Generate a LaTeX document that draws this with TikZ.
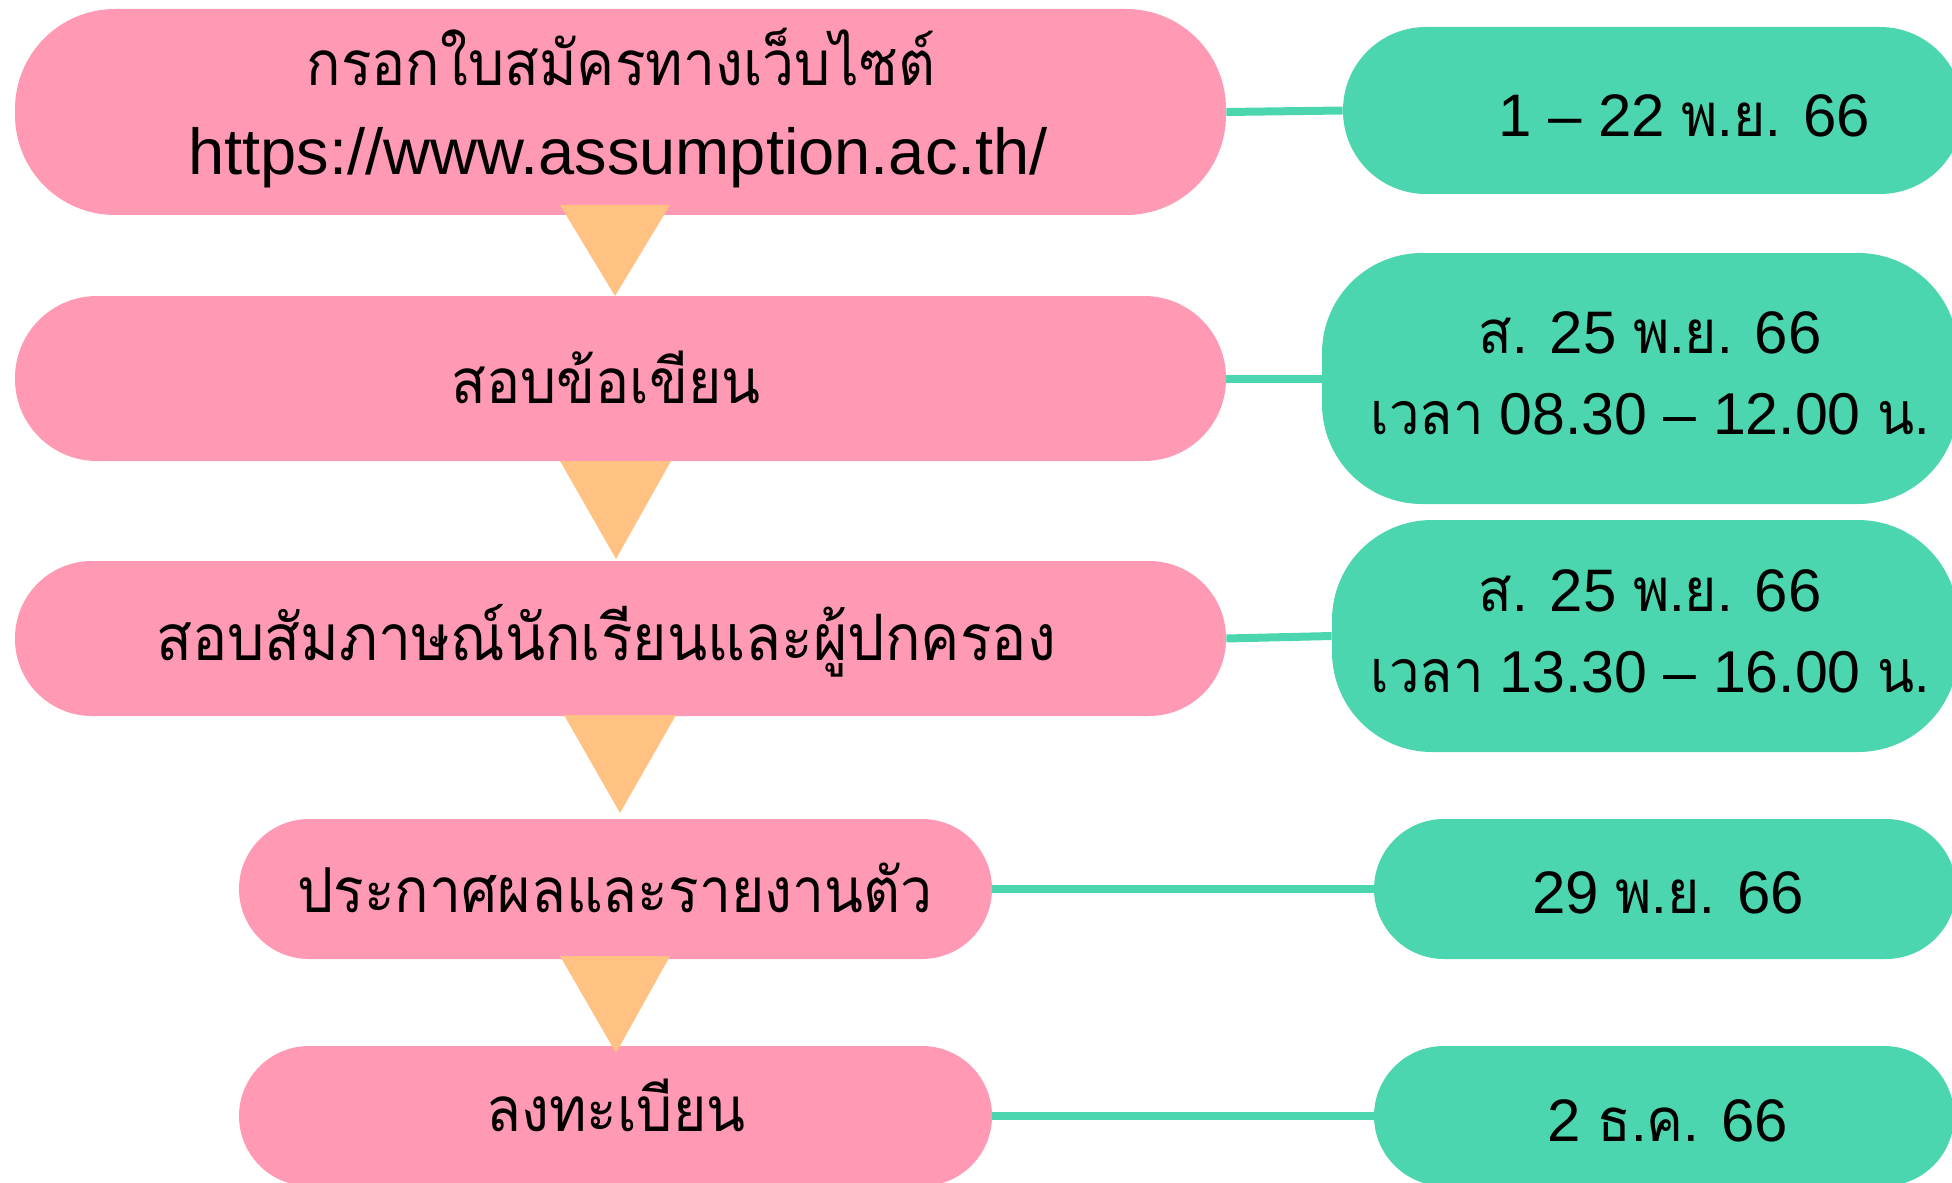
\documentclass[tikz,border=0pt]{standalone}
\usepackage{fontspec}
\setmainfont{Liberation Sans}
\newfontfamily\thaifont[Script=Thai, FakeStretch=0.92]{Loma}
\definecolor{pinkc}{HTML}{FF99B4}
\definecolor{greenc}{HTML}{4CD6AF}
\definecolor{orangec}{HTML}{FFC282}
\tikzset{
  pinkbox/.style={fill=pinkc, draw=none, inner sep=0pt, rectangle},
  greenbox/.style={fill=greenc, draw=none, inner sep=0pt, rectangle},
  txt/.style={inner sep=0pt, anchor=base, font=\fontsize{31}{37}\selectfont, text=black},
  urltxt/.style={txt, font=\fontsize{32.5}{38}\selectfont},
  datetxt/.style={txt, font=\fontsize{30}{36}\selectfont},
  datetxtb/.style={txt, font=\fontsize{29.5}{36}\selectfont},
  link/.style={draw=greenc, line width=4pt},
  tri/.style={fill=orangec, draw=none}
}
\begin{document}
\begin{tikzpicture}[x=0.5pt, y=-0.5pt]
\useasboundingbox (0,0) rectangle (1952,1182);
\clip (0,0) rectangle (1952,1182);
% pink process boxes
\node[pinkbox, minimum width=605.5pt, minimum height=103pt, rounded corners=50pt] (p1) at (620.5,112) {};
\node[pinkbox, minimum width=605.5pt, minimum height=82.5pt, rounded corners=41pt] (p2) at (620.5,378.5) {};
\node[pinkbox, minimum width=605.5pt, minimum height=77.5pt, rounded corners=38.5pt] (p3) at (620.5,638.5) {};
\node[pinkbox, minimum width=376.5pt, minimum height=70pt, rounded corners=35pt] (p4) at (615.5,889) {};
\node[pinkbox, minimum width=376.5pt, minimum height=70pt, rounded corners=35pt] (p5) at (615.5,1116) {};
% green date boxes
\node[greenbox, minimum width=310pt, minimum height=83.5pt, rounded corners=41.5pt] (g1) at (1653,110.5) {};
\node[greenbox, minimum width=318pt, minimum height=125.5pt, rounded corners=50pt] (g2) at (1640,378.5) {};
\node[greenbox, minimum width=313pt, minimum height=116pt, rounded corners=50pt] (g3) at (1645,636) {};
\node[greenbox, minimum width=291pt, minimum height=70pt, rounded corners=35pt] (g4) at (1665,889) {};
\node[greenbox, minimum width=290pt, minimum height=70pt, rounded corners=35pt] (g5) at (1664,1116) {};
% connectors
\draw[link] (p1.east) -- (g1.west);
\draw[link] (p2.east) -- (g2.west);
\draw[link] (p3.east) -- (g3.west);
\draw[link] (p4.east) -- (g4.west);
\draw[link] (p5.east) -- (g5.west);
% arrows (triangles)
\fill[tri] (560,205) -- (670,205) -- (615,296) -- cycle;
\fill[tri] (560,461) -- (671,461) -- (616,559) -- cycle;
\fill[tri] (564,715) -- (676,715) -- (620,813) -- cycle;
\fill[tri] (560,956) -- (670,956) -- (616,1053) -- cycle;
% pink texts
\node[txt] (t1a) at (621,86) {\thaifont กรอกใบสมัครทางเว็บไซต์};
\node[urltxt] (t1b) at (618,175) {https://www.assumption.ac.th/};
\node[txt] (t2) at (606,403) {\thaifont สอบข้อเขียน};
\node[txt, font=\fontsize{32}{38}\selectfont] (t3) at (606,660) {\thaifont สอบสัมภาษณ์นักเรียนและผู้ปกครอง};
\node[txt] (t4) at (615,912) {\thaifont ประกาศผลและรายงานตัว};
\node[txt] (t5) at (616,1131) {\thaifont ลงทะเบียน};
% green texts
\node[datetxt] (d1) at (1684,137) {1 – 22 {\thaifont พ.ย.} 66};
\node[datetxt] (d2a) at (1650,353) {{\thaifont ส.} 25 {\thaifont พ.ย.} 66};
\node[datetxtb] (d2b) at (1650,434) {{\thaifont เวลา} 08.30 – 12.00 {\thaifont น.}};
\node[datetxt] (d3a) at (1650,611) {{\thaifont ส.} 25 {\thaifont พ.ย.} 66};
\node[datetxtb] (d3b) at (1650,692) {{\thaifont เวลา} 13.30 – 16.00 {\thaifont น.}};
\node[datetxt] (d4) at (1668,913) {29 {\thaifont พ.ย.} 66};
\node[datetxt] (d5) at (1668,1141) {2 {\thaifont ธ.ค.} 66};
\end{tikzpicture}
\end{document}
